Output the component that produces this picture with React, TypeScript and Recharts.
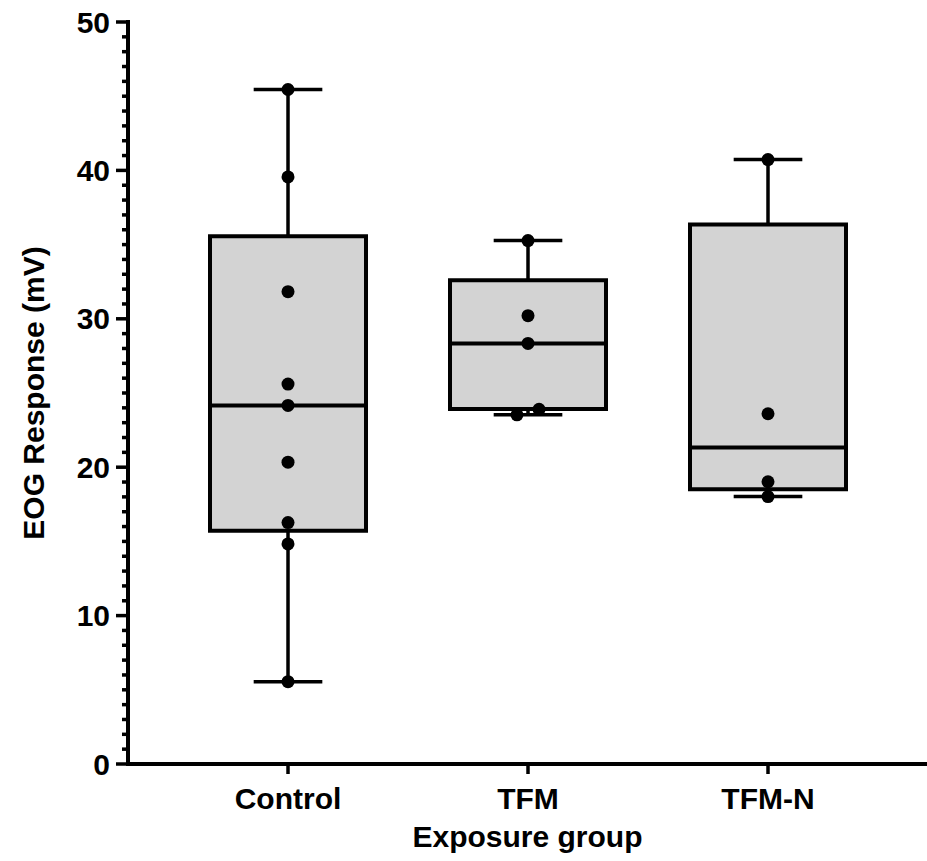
import React from 'react';
import { ScatterChart, XAxis, YAxis, Scatter, ReferenceArea, ReferenceLine, Label } from 'recharts';

const categories = ['Control', 'TFM', 'TFM-N'];
const controlValues = [45.45, 39.56, 31.83, 25.6, 24.16, 20.34, 16.27, 14.83, 5.55];
const tfmValues = [35.27, 30.21, 28.34, 23.9, 23.53];
const tfmNValues = [40.73, 23.6, 19.02, 18.02];
const q1Values = [15.71, 23.92, 18.52];
const medianValues = [24.16, 28.34, 21.33];
const q3Values = [35.56, 32.59, 36.35];
const yMajorTicks = [0, 10, 20, 30, 40, 50];
const xTicks = [1, 2, 3];

const groupValues = [controlValues, tfmValues, tfmNValues];
const yAllTicks = Array.from({ length: 51 }, (_, i) => i);

const FONT = '"Liberation Sans", Arial, Helvetica, sans-serif';
const FS = 30;
const BOX_HALF = 0.325;
const CAP_HALF = 0.143;
const JITTER_THRESHOLD = 0.8;
const JITTER = 0.046;

function dotsFor(values: number[], gi: number) {
  const sorted = [...values].sort((a, b) => a - b);
  return sorted.map((v, i) => {
    const prevClose = i > 0 && v - sorted[i - 1] < JITTER_THRESHOLD;
    const nextClose = i < sorted.length - 1 && sorted[i + 1] - v < JITTER_THRESHOLD;
    let dx = 0;
    if (prevClose) dx = JITTER;
    else if (nextClose) dx = -JITTER;
    return { x: gi + 1 + dx, y: v };
  });
}

const dots = groupValues.flatMap((vals, gi) => dotsFor(vals, gi));

const YTick = (props: any) => {
  const { x, y, payload } = props;
  const v = payload.value;
  const major = yMajorTicks.includes(v);
  const axisX = x + 17;
  return (
    <g>
      <line x1={axisX - (major ? 12 : 6)} x2={axisX} y1={y} y2={y} stroke="#000" strokeWidth={3.5} />
      {major && (
        <text x={x - 1} y={y} dy="0.355em" textAnchor="end" fill="#000" fontSize={FS} fontWeight="bold" fontFamily={FONT}>
          {v}
        </text>
      )}
    </g>
  );
};

const DotShape = (props: any) => <circle cx={props.cx} cy={props.cy} r={6.5} fill="#000" />;

export default function App() {
  return (
    <div style={{ position: 'absolute', left: 0, top: 0, background: '#fff' }}>
      <ScatterChart width={927} height={861} margin={{ top: 22, right: 0, bottom: 0, left: 0 }}>
        <XAxis
          type="number"
          dataKey="x"
          domain={[0.3333, 3.6625]}
          allowDataOverflow
          ticks={xTicks}
          interval={0}
          tickFormatter={(v: number) => categories[Math.round(v) - 1]}
          height={97}
          axisLine={{ stroke: '#000', strokeWidth: 4, strokeLinecap: 'square' }}
          tickLine={{ stroke: '#000', strokeWidth: 3.5 }}
          tickSize={10}
          tickMargin={14}
          tick={{ fill: '#000', fontSize: FS, fontWeight: 'bold', fontFamily: FONT }}
        >
          <Label
            content={(p: any) => {
              const vb = p.viewBox || {};
              const cx = (vb.x ?? 128) + (vb.width ?? 799) / 2;
              return (
                <text x={cx} y={847} textAnchor="middle" fill="#000" fontSize={FS} fontWeight="bold" fontFamily={FONT}>
                  Exposure group
                </text>
              );
            }}
          />
        </XAxis>
        <YAxis
          type="number"
          dataKey="y"
          domain={[0, 50]}
          allowDataOverflow
          ticks={yAllTicks}
          interval={0}
          width={128}
          tickLine={false}
          tickSize={12}
          tickMargin={5}
          tick={<YTick />}
          axisLine={{ stroke: '#000', strokeWidth: 4, strokeLinecap: 'square' }}
        >
          <Label
            content={(p: any) => {
              const vb = p.viewBox || {};
              const cx = 33;
              const cy = (vb.y ?? 22) + (vb.height ?? 742) / 2;
              return (
                <text
                  x={cx}
                  y={cy}
                  dy="0.355em"
                  transform={`rotate(-90 ${cx} ${cy})`}
                  textAnchor="middle"
                  fill="#000"
                  fontSize={FS}
                  fontWeight="bold"
                  fontFamily={FONT}
                >
                  EOG Response (mV)
                </text>
              );
            }}
          />
        </YAxis>
        {groupValues.map((vals, gi) => {
          const g = gi + 1;
          const mx = Math.max(...vals);
          const mn = Math.min(...vals);
          return [
            <ReferenceLine key={`wt${gi}`} segment={[{ x: g, y: q3Values[gi] }, { x: g, y: mx }]} stroke="#000" strokeWidth={3.5} />,
            <ReferenceLine key={`wb${gi}`} segment={[{ x: g, y: q1Values[gi] }, { x: g, y: mn }]} stroke="#000" strokeWidth={3.5} />,
            <ReferenceLine key={`ct${gi}`} segment={[{ x: g - CAP_HALF, y: mx }, { x: g + CAP_HALF, y: mx }]} stroke="#000" strokeWidth={3.5} />,
            <ReferenceLine key={`cb${gi}`} segment={[{ x: g - CAP_HALF, y: mn }, { x: g + CAP_HALF, y: mn }]} stroke="#000" strokeWidth={3.5} />,
          ];
        })}
        {groupValues.map((_, gi) => (
          <ReferenceArea
            key={`box${gi}`}
            x1={gi + 1 - BOX_HALF}
            x2={gi + 1 + BOX_HALF}
            y1={q1Values[gi]}
            y2={q3Values[gi]}
            fill="#d3d3d3"
            fillOpacity={1}
            stroke="#000"
            strokeWidth={4}
          />
        ))}
        {groupValues.map((_, gi) => (
          <ReferenceLine
            key={`med${gi}`}
            segment={[
              { x: gi + 1 - BOX_HALF, y: medianValues[gi] },
              { x: gi + 1 + BOX_HALF, y: medianValues[gi] },
            ]}
            stroke="#000"
            strokeWidth={4}
          />
        ))}
        <Scatter data={dots} shape={<DotShape />} isAnimationActive={false} />
      </ScatterChart>
    </div>
  );
}
